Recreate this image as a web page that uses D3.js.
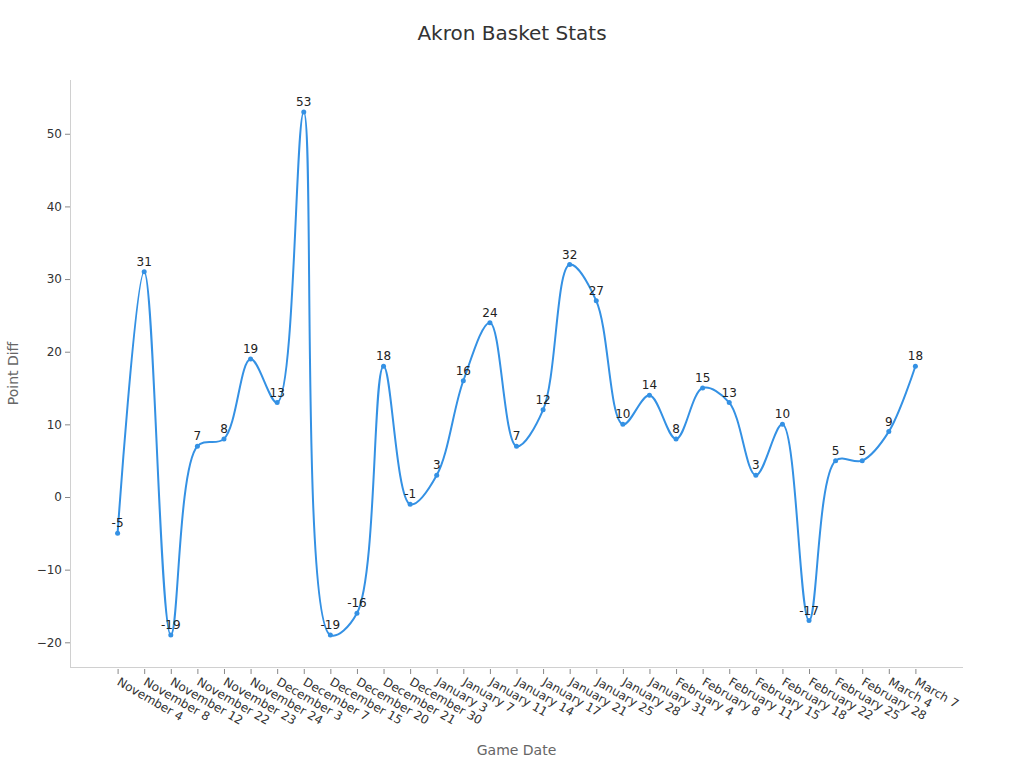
<!DOCTYPE html>
<html lang="en">
  <head>
    <meta charset="UTF-8" />
    <title>Akron Basket Stats</title>
    <script src="https://cdnjs.cloudflare.com/ajax/libs/d3/7.8.5/d3.min.js"></script>
    <style>
      body {
        margin: 0;
        background: #fff;
        font-family: 'DejaVu Sans', sans-serif;
      }
      .axis .domain {
        display: none;
      }
      .axis line {
        stroke: #888;
      }
      .axis text {
        fill: #333;
        font-size: 12px;
        font-family: 'DejaVu Sans', sans-serif;
      }
      .frame {
        stroke: #d0d0d0;
        stroke-width: 1;
      }
    </style>
  </head>
  <body>
    <svg width="1024" height="768"></svg>
    <script>
      // Game dates and point differentials
      const gameDates = [
        'November 4', 'November 8', 'November 12', 'November 22', 'November 23', 'November 24',
        'December 3', 'December 7', 'December 15', 'December 20', 'December 21', 'December 30',
        'January 3', 'January 7', 'January 11', 'January 14', 'January 17', 'January 21',
        'January 25', 'January 28', 'January 31', 'February 4', 'February 8', 'February 11',
        'February 15', 'February 18', 'February 22', 'February 25', 'February 28', 'March 4',
        'March 7',
      ];
      const pointDiff = [
        -5, 31, -19, 7, 8, 19, 13, 53, -19, -16, 18, -1, 3, 16, 24, 7, 12, 32, 27, 10, 14, 8, 15,
        13, 3, 10, -17, 5, 5, 9, 18,
      ];
      const yTicks = [-20, -10, 0, 10, 20, 30, 40, 50];

      const data = gameDates.map((d, i) => ({ date: d, value: pointDiff[i] }));

      const svg = d3.select('svg');
      const margin = { top: 80, right: 61, bottom: 101, left: 70 };
      const width = 1024 - margin.left - margin.right,
        height = 768 - margin.top - margin.bottom;

      const g = svg.append('g').attr('transform', `translate(${margin.left},${margin.top})`);

      const x = d3.scalePoint().domain(gameDates).range([0, width]).padding(1.79);
      const y = d3.scaleLinear().domain([-23.4, 57.4]).range([height, 0]);

      // Axis lines
      g.append('line').attr('class', 'frame')
        .attr('x1', 0.5).attr('x2', 0.5).attr('y1', 0).attr('y2', height);
      g.append('line').attr('class', 'frame')
        .attr('x1', 0).attr('x2', width).attr('y1', height + 0.5).attr('y2', height + 0.5);

      // Axes
      const xAxis = g
        .append('g')
        .attr('class', 'axis')
        .attr('transform', `translate(0,${height + 2})`)
        .call(d3.axisBottom(x).tickSizeOuter(0).tickSize(5));
      xAxis
        .selectAll('text')
        .attr('text-anchor', 'start')
        .attr('transform', 'rotate(30)')
        .attr('x', 6)
        .attr('y', 10)
        .attr('dy', '0.35em');

      g.append('g')
        .attr('class', 'axis')
        .call(d3.axisLeft(y).tickValues(yTicks).tickSizeOuter(0).tickSize(5));

      // Smoothed line
      const line = d3
        .line()
        .x(d => x(d.date))
        .y(d => y(d.value))
        .curve(d3.curveCatmullRom.alpha(0.5));

      g.append('path')
        .datum(data)
        .attr('fill', 'none')
        .attr('stroke', '#3491e4')
        .attr('stroke-width', 2)
        .attr('d', line);

      g.selectAll('.dot')
        .data(data)
        .enter()
        .append('circle')
        .attr('class', 'dot')
        .attr('cx', d => x(d.date))
        .attr('cy', d => y(d.value))
        .attr('r', 2.5)
        .attr('fill', '#3491e4');

      g.selectAll('.val')
        .data(data)
        .enter()
        .append('text')
        .attr('class', 'val')
        .attr('x', d => x(d.date))
        .attr('y', d => y(d.value) - 6)
        .attr('text-anchor', 'middle')
        .attr('font-size', 12)
        .attr('fill', '#222')
        .text(d => d.value);

      // Titles
      svg.append('text')
        .attr('x', 512)
        .attr('y', 40)
        .attr('text-anchor', 'middle')
        .attr('font-size', 20)
        .attr('fill', '#333')
        .text('Akron Basket Stats');

      svg.append('text')
        .attr('x', margin.left + width / 2)
        .attr('y', 755)
        .attr('text-anchor', 'middle')
        .attr('font-size', 14)
        .attr('fill', '#666')
        .text('Game Date');

      svg.append('text')
        .attr('transform', `translate(18,${margin.top + height / 2}) rotate(-90)`)
        .attr('text-anchor', 'middle')
        .attr('font-size', 14)
        .attr('fill', '#666')
        .text('Point Diff');
    </script>
  </body>
</html>
